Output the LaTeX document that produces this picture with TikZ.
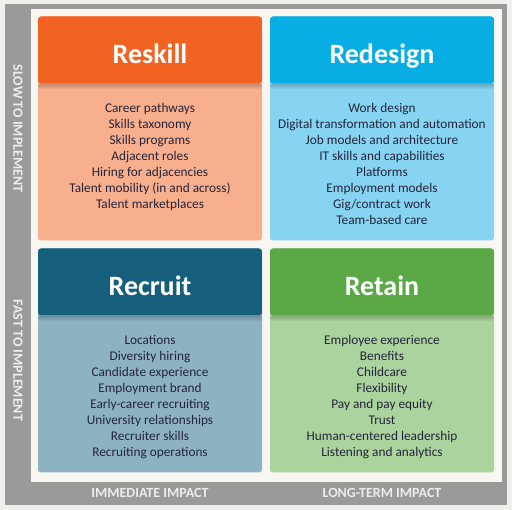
\documentclass[tikz,border=0pt]{standalone}
\usepackage{fontspec}
\setmainfont{Carlito}
\usepackage{xcolor}
\usetikzlibrary{positioning}
\definecolor{pagebg}      {HTML}{EFEFEC}
\definecolor{framegray}   {HTML}{9A9A9A}
\definecolor{panelcream}  {HTML}{F8F6F1}
\definecolor{itemtext}    {HTML}{24243A}
\definecolor{axistext}    {HTML}{EDEDED}
\definecolor{reskillhead} {HTML}{F26322}
\definecolor{reskillbody} {HTML}{F8AF8D}
\definecolor{redesignhead}{HTML}{08AEE3}
\definecolor{redesignbody}{HTML}{87D4F2}
\definecolor{recruithead} {HTML}{155F7C}
\definecolor{recruitbody} {HTML}{8DB3C3}
\definecolor{retainhead}  {HTML}{5AA946}
\definecolor{retainbody}  {HTML}{ABD39E}
\tikzset{
  quadbox/.style 2 args={
    rectangle, rounded corners=3pt, inner sep=0pt,
    minimum width=224pt, minimum height=224pt, fill=#2,
    path picture={
      \fill[#1] (path picture bounding box.north west)
        rectangle ([yshift=-67pt]path picture bounding box.north east);
      \shade[top color=black!22!#2, bottom color=#2]
        ([yshift=-67pt]path picture bounding box.north west)
        rectangle ([yshift=-73pt]path picture bounding box.north east);
    }
  },
  quadtitle/.style={
    anchor=base, inner sep=0pt, text=white,
    font=\bfseries\fontsize{28}{30}\selectfont
  },
  quaditems/.style={
    anchor=north, align=center, inner sep=0pt, text=itemtext,
    font=\fontsize{13.3}{16}\selectfont
  },
  axislabel/.style={
    inner sep=0pt, text=axistext,
    font=\bfseries\fontsize{14}{16}\selectfont
  },
}
\begin{document}
\begin{tikzpicture}[x=1pt, y=-1pt]
  \useasboundingbox (0,0) rectangle (512,510);
  \fill[pagebg] (0,0) rectangle (512,510);
  % frame and panel
  \fill[framegray] (5,4) rectangle (507,505);
  \fill[panelcream] (31,9) rectangle (502,482);
  % quadrants
  \node[quadbox={reskillhead}{reskillbody}]   (reskill)  at (150,128.5) {};
  \node[quadbox={redesignhead}{redesignbody}] (redesign) at (382,128.5) {};
  \node[quadbox={recruithead}{recruitbody}]   (recruit)  at (150,360.5) {};
  \node[quadbox={retainhead}{retainbody}]     (retain)   at (382,360.5) {};
  \node[quadtitle] (reskilltitle)  at ([yshift=-47pt]reskill.north)  {Reskill};
  \node[quadtitle] (redesigntitle) at ([yshift=-47pt]redesign.north) {Redesign};
  \node[quadtitle] (recruittitle)  at ([yshift=-47pt]recruit.north)  {Recruit};
  \node[quadtitle] (retaintitle)   at ([yshift=-47pt]retain.north)   {Retain};
  \node[quaditems] (reskillitems) at ([yshift=-86.5pt]reskill.north)
    {Career pathways\\Skills taxonomy\\Skills programs\\Adjacent roles\\
     Hiring for adjacencies\\Talent mobility (in and across)\\Talent marketplaces};
  \node[quaditems] (redesignitems) at ([yshift=-86.5pt]redesign.north)
    {Work design\\Digital transformation and automation\\Job models and architecture\\
     IT skills and capabilities\\Platforms\\Employment models\\Gig/contract work\\
     Team-based care};
  \node[quaditems] (recruititems) at ([yshift=-86.5pt]recruit.north)
    {Locations\\Diversity hiring\\Candidate experience\\Employment brand\\
     Early-career recruiting\\University relationships\\Recruiter skills\\
     Recruiting operations};
  \node[quaditems] (retainitems) at ([yshift=-86.5pt]retain.north)
    {Employee experience\\Benefits\\Childcare\\Flexibility\\Pay and pay equity\\
     Trust\\Human-centered leadership\\Listening and analytics};
  % axis labels
  \node[axislabel, rotate=-90] (slow) at (18,128.5) {SLOW TO IMPLEMENT};
  \node[axislabel, rotate=-90] (fast) at (18,360.5) {FAST TO IMPLEMENT};
  \node[axislabel] (immediate) at (150,493) {IMMEDIATE IMPACT};
  \node[axislabel] (longterm)  at (382,493) {LONG-TERM IMPACT};
\end{tikzpicture}
\end{document}
